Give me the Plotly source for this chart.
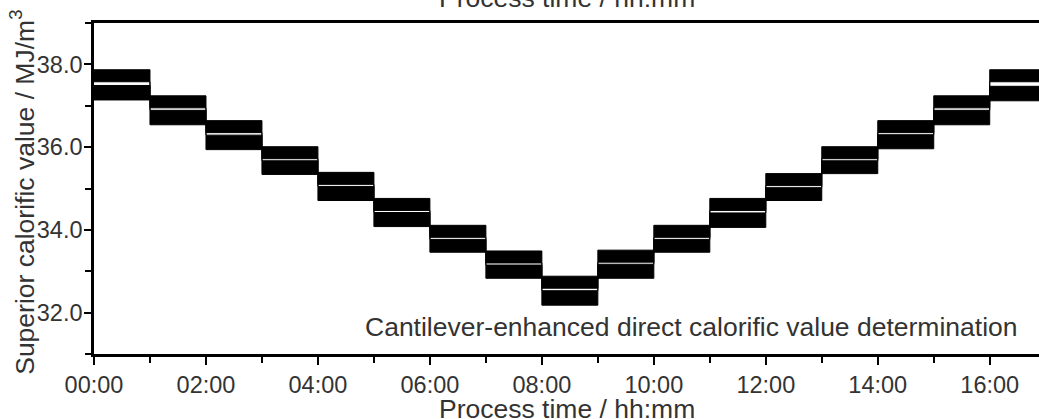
import plotly.graph_objects as go

# Process time (hours) at which each calorific-value step starts; last value closes the final step
hours = [0, 1, 2, 3, 4, 5, 6, 7, 8, 9, 10, 11, 12, 13, 14, 15, 16, 17]

# Upper trace: noise envelope (top / bottom) per hourly step, MJ/m3
upper_hi = [37.87, 37.24, 36.64, 36.01, 35.39, 34.76, 34.11, 33.49, 32.88,
            33.51, 34.11, 34.76, 35.36, 36.01, 36.64, 37.24, 37.87]
upper_lo = [37.58, 36.95, 36.35, 35.72, 35.10, 34.47, 33.82, 33.20, 32.59,
            33.22, 33.82, 34.47, 35.07, 35.72, 36.35, 36.95, 37.58]

# Lower trace: noise envelope (top / bottom) per hourly step, MJ/m3
lower_hi = [37.49, 36.89, 36.29, 35.67, 35.05, 34.42, 33.77, 33.15, 32.53,
            33.17, 33.77, 34.41, 35.02, 35.67, 36.30, 36.89, 37.47]
lower_lo = [37.14, 36.54, 35.94, 35.34, 34.71, 34.08, 33.46, 32.83, 32.18,
            32.83, 33.46, 34.06, 34.71, 35.36, 35.96, 36.54, 37.12]

x_tick_vals = [0, 2, 4, 6, 8, 10, 12, 14, 16]
x_tick_text = ["00:00", "02:00", "04:00", "06:00", "08:00", "10:00", "12:00", "14:00", "16:00"]
y_tick_vals = [32, 34, 36, 38]

FONT = "Liberation Sans, Arial, Helvetica, sans-serif"
TXT = "#333333"

def close(vals):
    return vals + [vals[-1]]

fig = go.Figure()
for hi, lo in [(upper_hi, upper_lo), (lower_hi, lower_lo)]:
    fig.add_trace(go.Scatter(x=hours, y=close(hi), mode="lines", line=dict(color="black", width=1, shape="hv"),
                             showlegend=False, hoverinfo="skip"))
    fig.add_trace(go.Scatter(x=hours, y=close(lo), mode="lines", line=dict(color="black", width=1, shape="hv"),
                             fill="tonexty", fillcolor="black", showlegend=False, hoverinfo="skip"))

fig.update_layout(
    width=1039, height=419,
    margin=dict(l=94, r=0, t=23, b=65),
    paper_bgcolor="white", plot_bgcolor="white",
    font=dict(family=FONT, color=TXT, size=23.5),
    xaxis=dict(
        range=[0, 16.88], showgrid=False, zeroline=False,
        tickmode="array", tickvals=x_tick_vals, ticktext=x_tick_text,
        ticks="outside", ticklen=8, tickwidth=2, tickcolor="black",
        showline=True, linecolor="black", linewidth=2.5, mirror=True,
        tickfont=dict(size=23.5, color=TXT),
        minor=dict(tickvals=[1, 3, 5, 7, 9, 11, 13, 15], ticks="outside", ticklen=6, tickwidth=2, tickcolor="black"),
        automargin=False,
    ),
    yaxis=dict(
        range=[31, 39], showgrid=False, zeroline=False,
        tickmode="array", tickvals=y_tick_vals, tickformat=".1f",
        ticks="outside", ticklen=7, tickwidth=2, tickcolor="black",
        showline=True, linecolor="black", linewidth=2.5, mirror=False,
        tickfont=dict(size=23.5, color=TXT), ticklabelstandoff=-3,
        minor=dict(tickvals=[31, 33, 35, 37, 39], ticks="outside", ticklen=6, tickwidth=2, tickcolor="black"),
        automargin=False,
    ),
    annotations=[
        dict(text="Superior calorific value / MJ/m<sup>3</sup>", textangle=-90,
             xref="paper", yref="paper", x=-0.0755, y=0.489, xanchor="center", yanchor="middle",
             showarrow=False, font=dict(size=26.5, color=TXT)),
        dict(text="Process time / hh:mm", xref="paper", yref="paper", x=0.5, y=1.023,
             xanchor="center", yanchor="bottom", showarrow=False, font=dict(size=26.5, color=TXT)),
        dict(text="Process time / hh:mm", xref="paper", yref="paper", x=0.5, y=-0.219,
             xanchor="center", yanchor="bottom", showarrow=False, font=dict(size=26.5, color=TXT)),
        dict(text="Cantilever-enhanced direct calorific value determination", xref="paper", yref="paper",
             x=0.980, y=0.0305, xanchor="right", yanchor="bottom", showarrow=False,
             font=dict(size=26.5, color=TXT)),
    ],
)

fig.write_html("out.html", config={"displayModeBar": False},
               post_script="document.body.style.margin='0';document.body.style.overflow='hidden';")
